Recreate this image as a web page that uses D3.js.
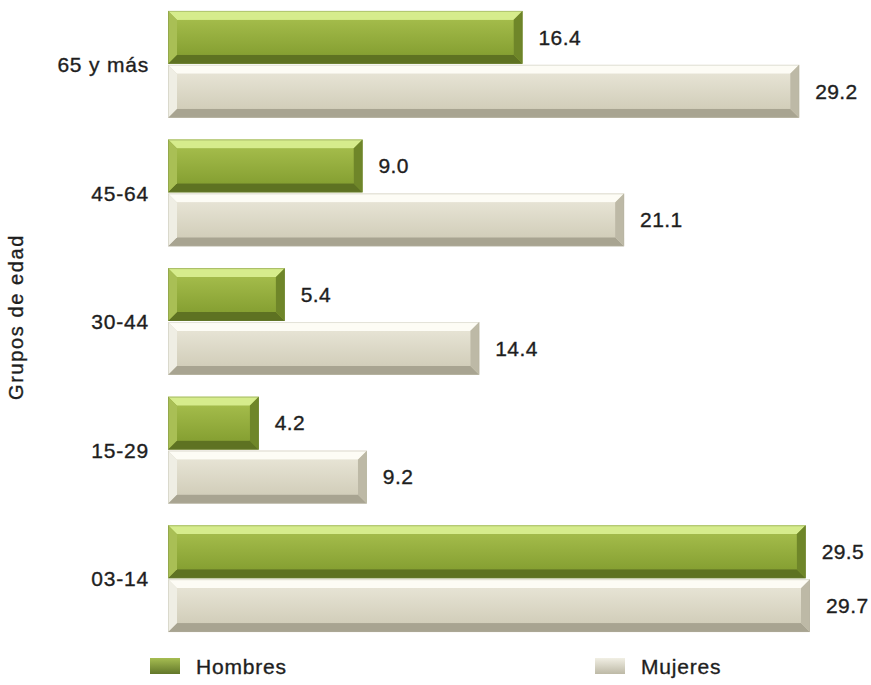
<!DOCTYPE html>
<html>
<head>
<meta charset="utf-8">
<script src="https://cdn.jsdelivr.net/npm/d3@7"></script>
<style>
  html, body { margin: 0; padding: 0; background: #ffffff; }
  svg { display: block; font-family: Arial, "Liberation Sans", sans-serif; }
  .lbl { fill: #1e1e1e; stroke: #1e1e1e; stroke-width: 0.35px; }
</style>
</head>
<body>
<svg id="chart" width="871" height="685"></svg>
<script>
// Age groups, top to bottom
const categories = ["65 y más", "45-64", "30-44", "15-29", "03-14"];
const series = ["Hombres", "Mujeres"];
const hombres = [16.4, 9.0, 5.4, 4.2, 29.5];
const mujeres = [29.2, 21.1, 14.4, 9.2, 29.7];

const palette = {
  Hombres: { id: "h", base: "#8ea63a", top: "#d6ec8c", bottom: "#5e7222", left: "#a9bf55", right: "#6f8629", edge: "#6d7f3a" },
  Mujeres: { id: "m", base: "#dbd7c5", top: "#fdfcf5", bottom: "#a8a491", left: "#efeee4", right: "#bdb9a6", edge: "#b5b1a0" }
};

const svg = d3.select("#chart");
const x = d3.scaleLinear().domain([0, 29.7]).range([168, 810]);
const y = d3.scaleBand().domain(categories).range([0, 643]).paddingInner(0.17).paddingOuter(0.085);
const ySub = d3.scaleBand().domain(series).range([0, y.bandwidth()]).paddingInner(0.02);

const rows = categories.map((c, i) => ({ cat: c, Hombres: hombres[i], Mujeres: mujeres[i] }));

const defs = svg.append("defs");
[["face-h", "#a3bb4a", "#86a032"], ["face-m", "#e6e3d4", "#d2ceba"],
 ["lh", "#a6bd52", "#62772a"], ["lm", "#f1efe4", "#bdb9a6"]].forEach(([id, c1, c2]) => {
  const lg = defs.append("linearGradient").attr("id", id).attr("x1", 0).attr("y1", 0).attr("x2", 0).attr("y2", 1);
  lg.append("stop").attr("offset", "0%").attr("stop-color", c1);
  lg.append("stop").attr("offset", "100%").attr("stop-color", c2);
});

// Beveled bar: a flat face surrounded by four shaded trapezoids
function bevelBar(g, x1, y1, w, h, col) {
  const b = Math.min(9, w / 2, h / 2);
  const x2 = x1 + w, y2 = y1 + h;
  g.append("rect").attr("x", x1).attr("y", y1).attr("width", w).attr("height", h).attr("fill", col.base);
  const poly = (pts, fill) => g.append("polygon")
    .attr("points", pts.map(p => p.join(",")).join(" ")).attr("fill", fill);
  poly([[x1, y1], [x2, y1], [x2 - b, y1 + b], [x1 + b, y1 + b]], col.top);
  poly([[x1, y2], [x2, y2], [x2 - b, y2 - b], [x1 + b, y2 - b]], col.bottom);
  poly([[x1, y1], [x1 + b, y1 + b], [x1 + b, y2 - b], [x1, y2]], col.left);
  poly([[x2, y1], [x2 - b, y1 + b], [x2 - b, y2 - b], [x2, y2]], col.right);
  g.append("rect").attr("x", x1 + b).attr("y", y1 + b)
    .attr("width", Math.max(0, w - 2 * b)).attr("height", Math.max(0, h - 2 * b))
    .attr("fill", "url(#face-" + col.id + ")");
  g.append("rect").attr("x", x1 + 0.5).attr("y", y1 + 0.5).attr("width", w - 1).attr("height", h - 1)
    .attr("fill", "none").attr("stroke", col.edge).attr("stroke-width", 1).attr("stroke-opacity", 0.35);
}

const groups = svg.append("g").selectAll("g").data(rows).join("g")
  .attr("transform", d => `translate(0,${y(d.cat)})`);

groups.each(function (d) {
  const g = d3.select(this);
  series.forEach(s => {
    const yy = ySub(s), h = ySub.bandwidth();
    bevelBar(g, x(0), yy, x(d[s]) - x(0), h, palette[s]);
    g.append("text")
      .attr("class", "lbl")
      .attr("x", x(d[s]) + 16)
      .attr("y", yy + h / 2)
      .attr("dy", "0.35em")
      .attr("font-size", 21)
      .attr("letter-spacing", 0.4)
      .text(d3.format(".1f")(d[s]));
  });
});

// Category axis (labels only), centred on each group
const yAxis = d3.axisLeft(y).tickSize(0).tickPadding(0);
const axisG = svg.append("g").attr("transform", "translate(149,1)").call(yAxis);
axisG.select(".domain").remove();
axisG.selectAll("text")
  .attr("class", "lbl")
  .attr("font-size", 21)
  .attr("letter-spacing", 0.8)
  .attr("font-family", "Arial, 'Liberation Sans', sans-serif");

// Axis title
svg.append("text")
  .attr("class", "lbl")
  .attr("transform", "translate(23,317) rotate(-90)")
  .attr("text-anchor", "middle")
  .attr("font-size", 20)
  .attr("letter-spacing", 1.6)
  .text("Grupos de edad");

// Legend
const legend = [
  { name: "Hombres", fill: "url(#lh)", x: 150 },
  { name: "Mujeres", fill: "url(#lm)", x: 595 }
];
const lg = svg.append("g").selectAll("g").data(legend).join("g")
  .attr("transform", d => `translate(${d.x},658)`);
lg.append("rect").attr("width", 30).attr("height", 16).attr("fill", d => d.fill);
lg.append("text").attr("class", "lbl").attr("x", 46).attr("y", 9).attr("dy", "0.35em")
  .attr("font-size", 21).attr("letter-spacing", 0.8).text(d => d.name);
</script>
</body>
</html>
